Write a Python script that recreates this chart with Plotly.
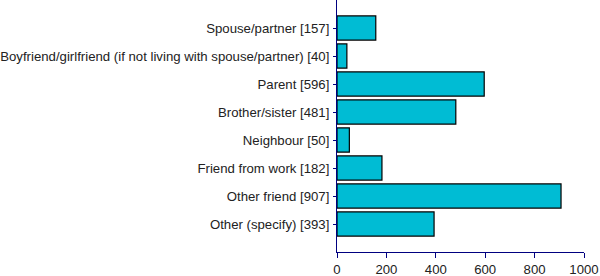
import plotly.graph_objects as go

categories = [
    "Spouse/partner [157]",
    "Boyfriend/girlfriend (if not living with spouse/partner) [40]",
    "Parent [596]",
    "Brother/sister [481]",
    "Neighbour [50]",
    "Friend from work [182]",
    "Other friend [907]",
    "Other (specify) [393]",
]
values = [157, 40, 596, 481, 50, 182, 907, 393]
x_ticks = [0, 200, 400, 600, 800, 1000]

cats_plot = categories[::-1]
vals_plot = values[::-1]

fig = go.Figure(go.Bar(
    x=vals_plot, y=cats_plot, orientation="h",
    marker=dict(color="#00BCD4", line=dict(color="black", width=1.2)),
    width=0.86,
))

fig.update_layout(
    width=600, height=276,
    margin=dict(l=337, r=16, t=0, b=24),
    paper_bgcolor="white", plot_bgcolor="white",
    font=dict(family="Liberation Sans, Arial, sans-serif", size=13.2, color="#222"),
    showlegend=False,
    bargap=0.14,
)
fig.update_xaxes(
    range=[0, 1000], tickvals=x_ticks, showgrid=False, zeroline=False,
    showline=True, linecolor="#000080", linewidth=1,
    ticks="outside", ticklen=5, tickcolor="#000080",
)
fig.update_yaxes(
    categoryorder="array", categoryarray=cats_plot,
    range=[-1, 8], showgrid=False, zeroline=False,
    showline=True, linecolor="#000080", linewidth=1,
    ticks="outside", ticklen=3, tickcolor="#000080", ticklabelstandoff=1,
)

fig.write_html("out.html")
